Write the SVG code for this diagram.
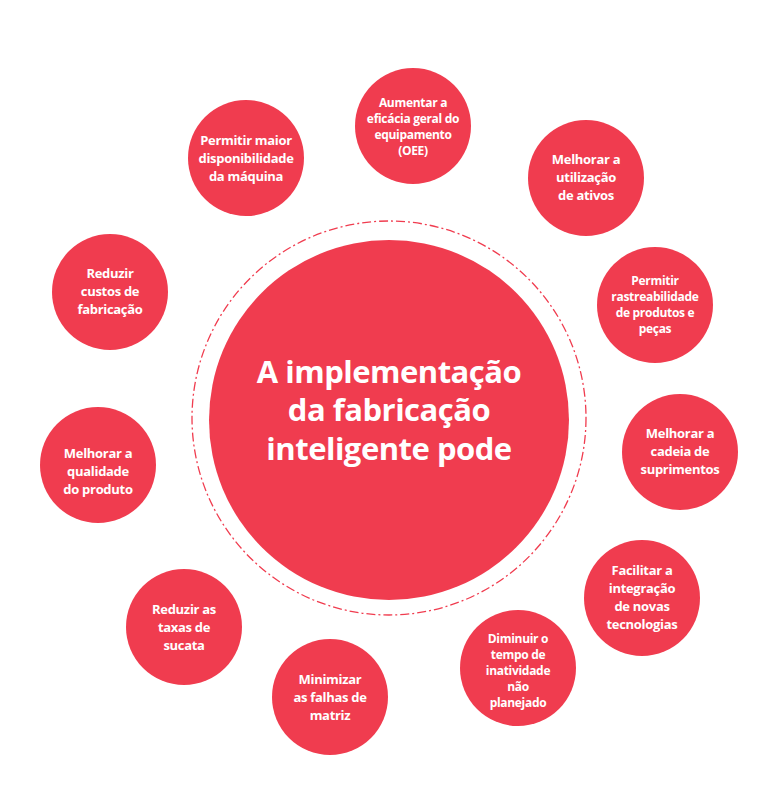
<svg xmlns="http://www.w3.org/2000/svg" width="781" height="810" viewBox="0 0 781 810">
<style>
.c{fill:#f03c4f}
.t{font-family:"Open Sans","Liberation Sans",sans-serif;font-weight:bold;fill:#fff;text-anchor:middle;font-size:13px;letter-spacing:-0.3px}
.s{font-size:12px}
.b{font-size:31px;letter-spacing:-0.5px}
</style>
<rect width="781" height="810" fill="#fff"/>
<g id="ring"><circle cx="389" cy="418" r="197" fill="none" stroke="#f03c4f" stroke-width="1.3" stroke-dasharray="9 3 2 3"/></g>
<g id="center"><circle class="c" cx="389" cy="420" r="180"/>
<text class="t b" x="389" y="383">A implementação</text>
<text class="t b" x="389" y="421">da fabricação</text>
<text class="t b" x="389" y="460">inteligente pode</text></g>
<g id="n1"><circle class="c" cx="413" cy="126" r="58"/><text class="t s" x="413" y="107">Aumentar a</text><text class="t s" x="413" y="123">eficácia geral do</text><text class="t s" x="413" y="139">equipamento</text><text class="t s" x="413" y="155">(OEE)</text></g>
<g id="n2"><circle class="c" cx="586" cy="178" r="58"/><text class="t" x="586" y="164">Melhorar a</text><text class="t" x="586" y="182">utilização</text><text class="t" x="586" y="200">de ativos</text></g>
<g id="n3"><circle class="c" cx="655" cy="305" r="58"/><text class="t s" x="655" y="285">Permitir</text><text class="t s" x="655" y="301">rastreabilidade</text><text class="t s" x="655" y="317">de produtos e</text><text class="t s" x="655" y="333">peças</text></g>
<g id="n4"><circle class="c" cx="680" cy="452" r="58"/><text class="t" x="680" y="438">Melhorar a</text><text class="t" x="680" y="456">cadeia de</text><text class="t" x="680" y="474">suprimentos</text></g>
<g id="n5"><circle class="c" cx="642" cy="598" r="58"/><text class="t" x="642" y="575">Facilitar a</text><text class="t" x="642" y="593">integração</text><text class="t" x="642" y="611">de novas</text><text class="t" x="642" y="629">tecnologias</text></g>
<g id="n6"><circle class="c" cx="518" cy="668" r="58"/><text class="t s" x="518" y="643">Diminuir o</text><text class="t s" x="518" y="659">tempo de</text><text class="t s" x="518" y="675">inatividade</text><text class="t s" x="518" y="691">não</text><text class="t s" x="518" y="707">planejado</text></g>
<g id="n7"><circle class="c" cx="330" cy="697" r="58"/><text class="t" x="330" y="684">Minimizar</text><text class="t" x="330" y="702">as falhas de</text><text class="t" x="330" y="720">matriz</text></g>
<g id="n8"><circle class="c" cx="184" cy="627" r="58"/><text class="t" x="184" y="614">Reduzir as</text><text class="t" x="184" y="632">taxas de</text><text class="t" x="184" y="650">sucata</text></g>
<g id="n9"><circle class="c" cx="98" cy="465" r="58"/><text class="t" x="98" y="458">Melhorar a</text><text class="t" x="98" y="476">qualidade</text><text class="t" x="98" y="494">do produto</text></g>
<g id="n10"><circle class="c" cx="110" cy="292" r="58"/><text class="t" x="110" y="278">Reduzir</text><text class="t" x="110" y="296">custos de</text><text class="t" x="110" y="314">fabricação</text></g>
<g id="n11"><circle class="c" cx="246" cy="158" r="58"/><text class="t" x="246" y="145">Permitir maior</text><text class="t" x="246" y="163">disponibilidade</text><text class="t" x="246" y="181">da máquina</text></g>
</svg>
